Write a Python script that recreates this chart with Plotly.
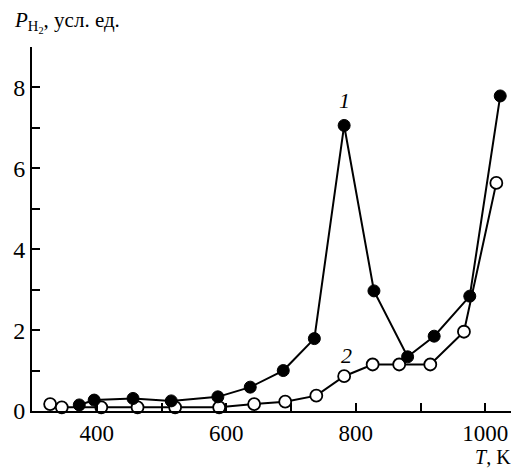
import plotly.graph_objects as go

t1 = [373, 396, 456, 515, 587, 637, 688, 736, 782, 828, 880, 921, 976, 1023]
p1 = [0.15, 0.27, 0.31, 0.25, 0.35, 0.59, 1.0, 1.79, 7.06, 2.97, 1.34, 1.85, 2.84, 7.79]
t2 = [328, 346, 407, 463, 521, 589, 643, 691, 739, 782, 826, 867, 915, 967, 1017]
p2 = [0.17, 0.09, 0.09, 0.09, 0.09, 0.09, 0.17, 0.23, 0.38, 0.86, 1.15, 1.15, 1.15, 1.96, 5.64]
x_ticks = [400, 600, 800, 1000]
y_ticks = [0, 2, 4, 6, 8]

FONT = "Liberation Serif"

fig = go.Figure()
fig.add_trace(go.Scatter(
    x=t2, y=p2, mode="lines+markers",
    line=dict(color="black", width=2),
    marker=dict(symbol="circle", size=12, color="white", line=dict(color="black", width=1.8)),
    cliponaxis=False, showlegend=False))
fig.add_trace(go.Scatter(
    x=t1, y=p1, mode="lines+markers",
    line=dict(color="black", width=2),
    marker=dict(symbol="circle", size=12, color="black", line=dict(color="black", width=1)),
    cliponaxis=False, showlegend=False))

tick_common = dict(ticks="inside", ticklen=8, tickwidth=1.5, tickcolor="black")

# page body has an 8px default margin; size the figure so that it fills the window
fig.update_layout(
    width=511, height=461,
    margin=dict(l=24, r=0, t=39, b=58, autoexpand=False),
    paper_bgcolor="white", plot_bgcolor="white",
    font=dict(family=FONT, size=23, color="black"),
    xaxis=dict(range=[300, 1052], tickmode="array", tickvals=x_ticks, automargin=False,
               minor=dict(dtick=100, tick0=0, **tick_common),
               showline=True, linecolor="black", linewidth=2, showgrid=False, zeroline=False,
               tickfont=dict(family=FONT, size=23), ticklabelstandoff=0, **tick_common),
    yaxis=dict(range=[0, 9], tickmode="array", tickvals=y_ticks, automargin=False,
               minor=dict(dtick=1, tick0=0, **tick_common),
               showline=True, linecolor="black", linewidth=2, showgrid=False, zeroline=False,
               tickfont=dict(family=FONT, size=24), ticklabelstandoff=0, **tick_common),
)

fig.add_annotation(xref="paper", yref="paper", x=-0.042, y=1.069, xanchor="left", yanchor="middle",
                   text="<i>P</i><sub>H<sub>2</sub></sub>, усл. ед.", showarrow=False,
                   font=dict(family=FONT, size=21, color="black"))
fig.add_annotation(xref="paper", yref="paper", x=0.987, y=-0.126, xanchor="right", yanchor="middle",
                   text="<i>T</i>, K", showarrow=False, font=dict(family=FONT, size=20))
fig.add_annotation(x=782, y=7.68, text="<i>1</i>", showarrow=False, font=dict(family=FONT, size=22))
fig.add_annotation(x=785, y=1.38, text="<i>2</i>", showarrow=False, font=dict(family=FONT, size=22))

fig.write_html("out.html")
